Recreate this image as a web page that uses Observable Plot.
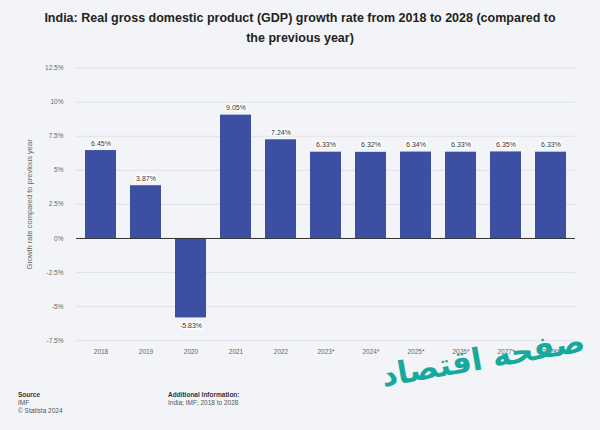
<!DOCTYPE html>
<html>
<head>
<meta charset="utf-8">
<script src="https://cdn.jsdelivr.net/npm/d3@7"></script>
<script src="https://cdn.jsdelivr.net/npm/@observablehq/plot@0.6"></script>
<style>
  html, body { margin: 0; padding: 0; background: #f3f4f8; }
  body { width: 600px; height: 430px; position: relative; overflow: hidden; font-family: "Liberation Sans", Arial, sans-serif; }
  #title { height: 55px; box-sizing: border-box; padding: 8px 40px 0 40px; text-align: center; font-weight: bold; font-size: 12.5px; line-height: 20px; color: #222; }
  #chart { height: 320px; }
  #footer { position: absolute; top: 391px; left: 0; width: 600px; font-size: 6.5px; color: #555; line-height: 8px; }
  #footer .b { font-weight: bold; color: #333; }
  #src { position: absolute; left: 18px; top: 0; }
  #add { position: absolute; left: 168px; top: 0; }
  #wm { position: absolute; right: 14px; top: 340px; direction: rtl; font-family: "DejaVu Sans", sans-serif; font-weight: bold; font-size: 31px; color: #17a99c; transform: rotate(-10deg); white-space: nowrap; }
</style>
</head>
<body>
<div id="title">India: Real gross domestic product (GDP) growth rate from 2018 to 2028 (compared to the previous year)</div>
<div id="chart"></div>
<div id="footer">
  <div id="src"><span class="b">Source</span><br>IMF<br>© Statista 2024</div>
  <div id="add"><span class="b">Additional Information:</span><br>India; IMF; 2018 to 2028</div>
</div>
<div id="wm">صفحه اقتصاد</div>
<script>
const years = ["2018", "2019", "2020", "2021", "2022", "2023*", "2024*", "2025*", "2026*", "2027*", "2028*"];
const growth = [6.45, 3.87, -5.83, 9.05, 7.24, 6.33, 6.32, 6.34, 6.33, 6.35, 6.33];
const yTicks = [-7.5, -5, -2.5, 0, 2.5, 5, 7.5, 10, 12.5];

const data = years.map((y, i) => ({year: y, value: growth[i]}));
const fmt = v => v.toFixed(2) + "%";

const chart = Plot.plot({
  width: 600,
  height: 320,
  marginTop: 12.6,
  marginBottom: 34.8,
  marginLeft: 76,
  marginRight: 25,
  style: {background: "transparent", fontFamily: "Liberation Sans, Arial, sans-serif"},
  x: {domain: years, paddingInner: 0.3, paddingOuter: 0.15, label: null},
  y: {domain: [-7.5, 12.5], label: null},
  marks: [
    Plot.gridY(yTicks, {stroke: "#dfe1e8", strokeOpacity: 1}),
    Plot.barY(data, {x: "year", y: "value", fill: "#3c4fa2"}),
    Plot.ruleY([0], {stroke: "#333", strokeWidth: 1}),
    Plot.text(data, {x: "year", y: "value", text: d => fmt(d.value), lineAnchor: "bottom", filter: d => d.value >= 0, dy: -5, fontSize: 7, fill: "#333", stroke: "white", strokeWidth: 3}),
    Plot.text(data, {x: "year", y: "value", text: d => fmt(d.value), lineAnchor: "top", filter: d => d.value < 0, dy: 5, fontSize: 7, fill: "#333", stroke: "white", strokeWidth: 3}),
    Plot.axisX({tickSize: 0, tickPadding: 9, fontSize: 6.5, fill: "#666", label: null}),
    Plot.axisY({ticks: yTicks, tickFormat: d => d + "%", tickSize: 0, tickPadding: 13, fontSize: 6.5, fill: "#666", label: null}),
    Plot.text(["Growth rate compared to previous year"], {frameAnchor: "left", dx: -47, y: 2.5, rotate: -90, textAnchor: "middle", fontSize: 7.5, fill: "#666"})
  ]
});
document.getElementById("chart").appendChild(chart);
</script>
</body>
</html>
